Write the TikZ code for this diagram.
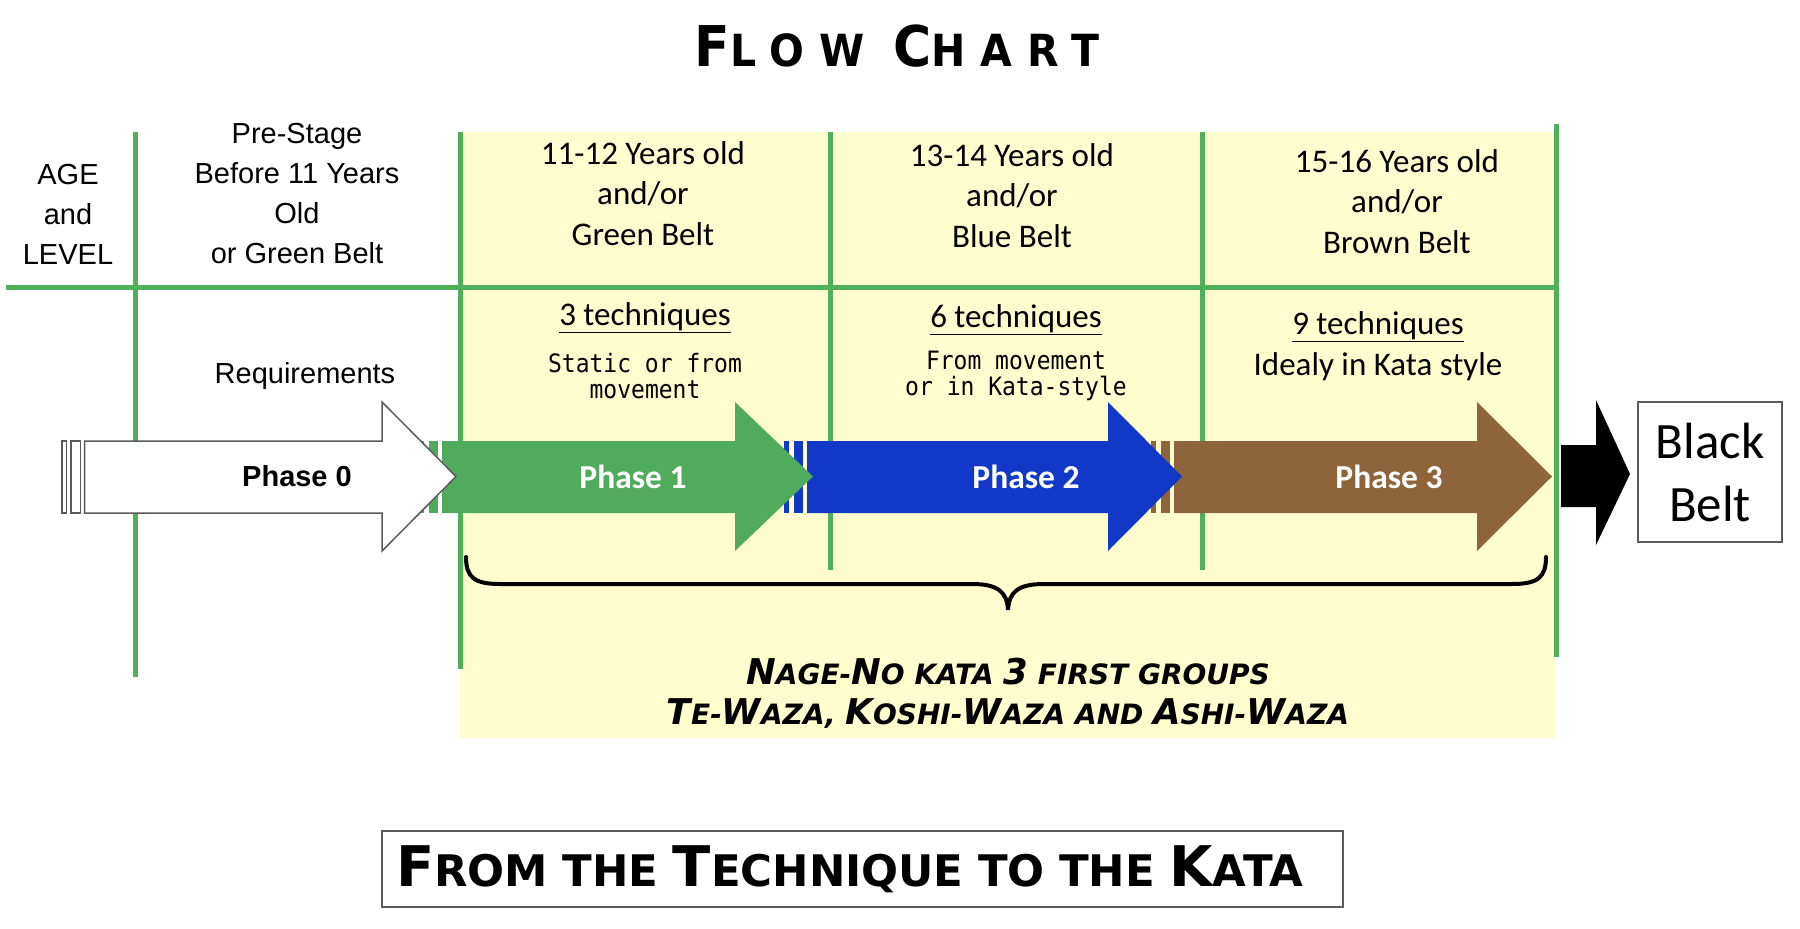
\documentclass[tikz,border=0pt]{standalone}
\usepackage{fontspec}
\setmainfont{Carlito}
\newfontfamily\arialf{Liberation Sans}
\newfontfamily\verd{DejaVu Sans}
\newfontfamily\titlefont[LetterSpace=36]{DejaVu Sans}
\newfontfamily\monof{DejaVu Sans Mono}
\newcommand\fs[2]{\fontsize{#1}{#2}\selectfont}
\newcommand\SCw[4]{{\fs{#1}{#1}#3}{\fs{#2}{#2}#4}}
\definecolor{gline}{RGB}{80,176,90}
\definecolor{garrow}{RGB}{80,172,92}
\definecolor{barrow}{RGB}{18,56,200}
\definecolor{brarrow}{RGB}{142,100,58}
\definecolor{ybg}{RGB}{255,253,206}
\definecolor{outl}{RGB}{90,90,90}
\newcommand\sarrow[5]{%
  \path[#5] (#1,441) rectangle (#1+4.6,513);
  \path[#5] (#1+9.2,441) rectangle (#1+18.4,513);
  \path[#5] (#2,441) -- (#3,441) -- (#3,402) -- (#4,476.5) -- (#3,551) -- (#3,513) -- (#2,513) -- cycle;}
\tikzset{
  gridline/.style={draw=gline, line width=5pt},
  cal/.style={font={\fs{33}{40.5}}, align=center, inner sep=0pt},
  tah/.style={font={\arialf\fs{29}{40}}, align=center, inner sep=0pt},
  mono/.style={font={\monof\fs{23}{26}}, align=center, inner sep=0pt},
  phase/.style={font={\bfseries\fs{33.5}{36}}, text=white, inner sep=0pt},
}
\begin{document}
\begin{tikzpicture}[x=1pt,y=-1pt]
\useasboundingbox (0,0) rectangle (1800,929);
\fill[white] (0,0) rectangle (1800,929);
% yellow background
\fill[ybg] (460,132) rectangle (1555,738);
% grid lines
\draw[gridline] (135,132) -- (135,677);
\draw[gridline] (460,132) -- (460,669);
\draw[gridline] (830,132) -- (830,570);
\draw[gridline] (1202,132) -- (1202,570);
\draw[gridline] (1556,124) -- (1556,657);
\draw[gridline] (6,287) -- (1558,287);
% brace
\draw[line width=4pt, line cap=round] (466,557) .. controls (466,578) and (475,584) .. (500,584) -- (972,584) .. controls (998,584) and (1007,592) .. (1008,610) .. controls (1009,592) and (1018,584) .. (1044,584) -- (1512,584) .. controls (1537,584) and (1546,578) .. (1546,557);
% phase arrows (later ones below)
\sarrow{1151.3}{1174}{1477}{1552}{fill=brarrow}
\sarrow{784.3}{807}{1108}{1182}{fill=barrow}
\sarrow{419.3}{442}{735}{813}{fill=garrow}
\sarrow{62}{84.5}{382}{456}{fill=white, draw=outl, line width=1.5pt}
% black arrow
\fill[black] (1561,445) -- (1596,445) -- (1596,400) -- (1630,474) -- (1596,545) -- (1596,507) -- (1561,507) -- cycle;
% title
\node[font={\titlefont\bfseries\fs{41}{41}}, inner sep=0pt] (title) at (897,46) {\scalebox{1.0}[1.08]{\SCw{52}{41}{F}{LOW} \SCw{52}{41}{C}{HART}}};
% headers
\node[tah] (age) at (68,214.5) {AGE\\and\\LEVEL};
\node[tah] (pre) at (297,193.5) {Pre-Stage\\Before 11 Years\\Old\\or Green Belt};
\node[cal] (h1) at (643,193.5) {11-12 Years old\\and/or\\Green Belt};
\node[cal] (h2) at (1012,195.5) {13-14 Years old\\and/or\\Blue Belt};
\node[cal] (h3) at (1397,201.5) {15-16 Years old\\and/or\\Brown Belt};
% requirements
\node[tah] (req) at (305,376) {Requirements};
\node[cal] (t1) at (645,318) {\underline{3 techniques}};
\node[mono] (d1) at (645,376) {\scalebox{1}[1.1]{Static or from}\\\scalebox{1}[1.1]{movement}};
\node[cal] (t2) at (1016,320) {\underline{6 techniques}};
\node[mono] (d2) at (1016,376) {\scalebox{1}[1.1]{From movement}\\\scalebox{1}[1.1]{or in Kata-style}};
\node[cal] (t3) at (1378,327) {\underline{9 techniques}};
\node[cal] (d3) at (1378,367) {Idealy in Kata style};
% phase labels
\node[font={\arialf\bfseries\fs{29}{32}}, inner sep=0pt] (p0) at (297,476.5) {Phase 0};
\node[phase] (p1) at (633,476.5) {Phase 1};
\node[phase] (p2) at (1026,476.5) {Phase 2};
\node[phase] (p3) at (1389,476.5) {Phase 3};
% black belt
\node[draw=outl, line width=1.5pt, minimum width=144pt, minimum height=140pt, font={\fs{51}{63}}, align=center, inner sep=0pt] (bb) at (1710,472) {Black\\Belt};
% nage-no kata
\node[font={\verd\bfseries\itshape\fs{28}{40}}, align=center, inner sep=0pt] (nage) at (1008,693) {\SCw{35.5}{28}{N}{AGE}-\SCw{35.5}{28}{N}{O} KATA {\fs{35.5}{35.5}3} FIRST GROUPS\\\SCw{35.5}{28}{T}{E}-\SCw{35.5}{28}{W}{AZA}, \SCw{35.5}{28}{K}{OSHI}-\SCw{35.5}{28}{W}{AZA} AND \SCw{35.5}{28}{A}{SHI}-\SCw{35.5}{28}{W}{AZA}};
% bottom box
\node[draw=outl, line width=1.5pt, minimum width=961pt, minimum height=76pt, inner xsep=14pt, inner ysep=0pt, text width=933pt, align=left, font={\verd\bfseries\fs{43.5}{43.5}}] (bottom) at (862.5,869) {\SCw{56}{43.5}{F}{ROM} THE \SCw{56}{43.5}{T}{ECHNIQUE} TO THE \SCw{56}{43.5}{K}{ATA}};
\end{tikzpicture}
\end{document}
